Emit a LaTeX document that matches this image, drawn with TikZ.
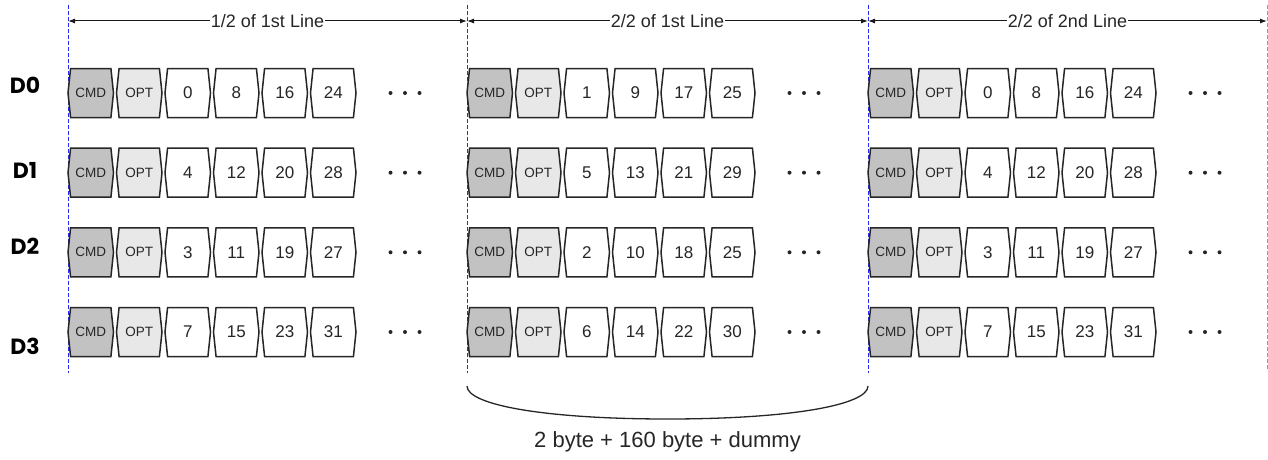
\documentclass[tikz,border=0pt]{standalone}
\usepackage{fontspec}
\setmainfont{Liberation Sans}
\newfontfamily\dfont{Poppins}
\usetikzlibrary{shapes.symbols,arrows.meta}
\definecolor{cmdgray}{HTML}{C2C2C2}
\definecolor{optgray}{HTML}{E8E8E8}
\definecolor{guideblue}{HTML}{2A2AF0}
\definecolor{guidelight}{HTML}{9090F0}
\begin{document}
\begin{tikzpicture}[x=1pt,y=-1pt,
  cell/.style={signal, signal to=west and east, signal pointer angle=168,
    draw=black!85, line width=1.5pt, minimum width=45.5pt, minimum height=49pt,
    inner sep=0pt, font=\fontsize{17}{17}\selectfont, text=black!85},
  cmdcell/.style={cell, fill=cmdgray, font=\fontsize{13.5}{13.5}\selectfont},
  optcell/.style={cell, fill=optgray, font=\fontsize{13.5}{13.5}\selectfont},
  guide/.style={guideblue, line width=0.8pt, dash pattern=on 4pt off 2pt},
  dimarrow/.style={{Latex[length=7pt,width=5pt]}-{Latex[length=7pt,width=5pt]}, line width=1pt, black!90},
  dimlabel/.style={fill=white, inner sep=1pt, font=\fontsize{18}{18}\selectfont, text=black!85},
  rowlabel/.style={font=\dfont\bfseries\fontsize{22}{22}\selectfont, text=black}
]
\useasboundingbox (0,0) rectangle (1268,460);

% guide lines
\foreach \gx [count=\g] in {68,467,868} {
  \coordinate (gt\g) at (\gx,5);
  \coordinate (gb\g) at (\gx,373);
  \draw[guide] (gt\g) -- (gb\g);
}
\coordinate (gt4) at (1267,5);
\coordinate (gb4) at (1267,371);
\draw[guide, guidelight] (gt4) -- (gb4);

% dimension arrows
\coordinate (a1) at (68,21);
\coordinate (a2) at (467,21);
\coordinate (a3) at (868,21);
\coordinate (a4) at (1267,21);
\draw[dimarrow] (a1) -- (a2) node[midway, dimlabel] (l1) {1/2 of 1st Line};
\draw[dimarrow] (a2) -- (a3) node[midway, dimlabel] (l2) {2/2 of 1st Line};
\draw[dimarrow] (a3) -- (a4) node[midway, dimlabel] (l3) {2/2 of 2nd Line};

% row labels
\node[rowlabel] (d0) at (25,85) {D0};
\node[rowlabel] (d1) at (25,170) {D1};
\node[rowlabel] (d2) at (25,246) {D2};
\node[rowlabel] (d3) at (25,346) {D3};

% cells
\foreach \xo/\yy/\a/\b/\c/\d [count=\k] in {
  68/93/0/8/16/24, 68/172.7/4/12/20/28, 68/252.3/3/11/19/27, 68/332/7/15/23/31,
  467/93/1/9/17/25, 467/172.7/5/13/21/29, 467/252.3/2/10/18/25, 467/332/6/14/22/30,
  868/93/0/8/16/24, 868/172.7/4/12/20/28, 868/252.3/3/11/19/27, 868/332/7/15/23/31} {
  \node[cmdcell] (cmd\k) at (\xo+22.75,\yy) {CMD};
  \node[optcell] (opt\k) at (\xo+71.25,\yy) {OPT};
  \foreach \v [count=\i] in {\a,\b,\c,\d} {
    \node[cell] (v\k-\i) at (\xo+22.75+48.5*\i+48.5,\yy) {\v};
  }
  \foreach \dx in {-14.5,0,14.5} {
    \fill[black!85] (\xo+337+\dx,\yy) circle (2pt);
  }
}

% brace
\coordinate (b1) at (467,386);
\coordinate (bm) at (667.5,419);
\coordinate (b2) at (868,386);
\draw[line width=1.3pt, black!85] (b1) .. controls (467,405) and (545,419) .. (bm)
  .. controls (790,419) and (868,405) .. (b2);
\node[font=\fontsize{22}{22}\selectfont, text=black!85] (cap) at (667.5,442) {2 byte + 160 byte + dummy};
\end{tikzpicture}
\end{document}
